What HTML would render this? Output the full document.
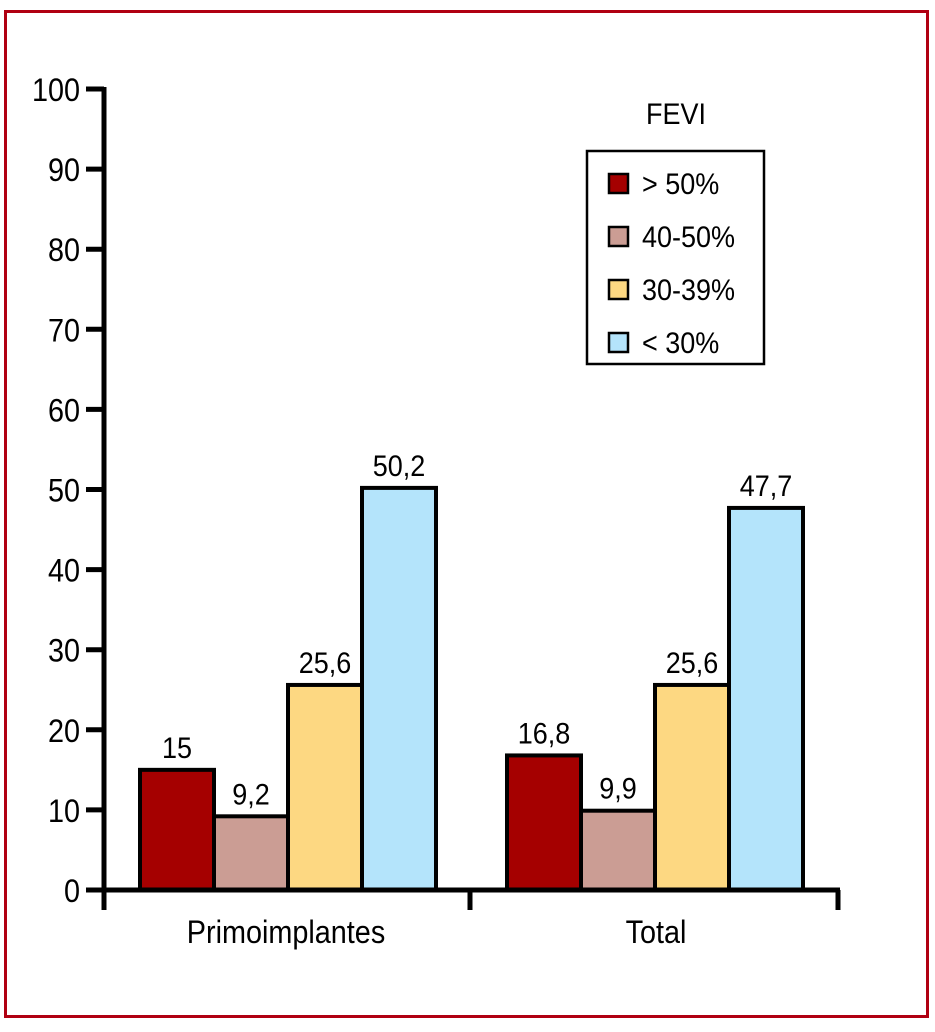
<!DOCTYPE html>
<html><head><meta charset="utf-8"><style>
body{margin:0;background:#fff}
svg text{font-family:"Liberation Sans",sans-serif;fill:#000}
</style></head><body>
<svg width="935" height="1027" xmlns="http://www.w3.org/2000/svg">
<rect x="5.5" y="11.5" width="922" height="1005" fill="none" stroke="#b00012" stroke-width="3"/>
<g id="plot"></g>
</svg>
<script>
const categories=["Primoimplantes","Total"];
const seriesNames=["> 50%","40-50%","30-39%","< 30%"];
const seriesColors=["#a50000","#cb9d94","#fdd882","#b4e4fb"];
const group1=[15,9.2,25.6,50.2];
const group2=[16.8,9.9,25.6,47.7];
const valueLabels1=["15","9,2","25,6","50,2"];
const valueLabels2=["16,8","9,9","25,6","47,7"];
const yTicks=[0,10,20,30,40,50,60,70,80,90,100];
const NS="http://www.w3.org/2000/svg";
const g=document.getElementById('plot');
const y0=890,y100=89,xAxis0=104,xAxis1=838;
const y=v=>y0-(v/100)*(y0-y100);
const SX=0.9;
function mk(t,a){const e=document.createElementNS(NS,t);for(const k in a)e.setAttribute(k,a[k]);g.appendChild(e);return e;}
function txt(x,yy,s,anchor,size){const e=mk('text',{x:0,y:0,'text-anchor':anchor,'font-size':size,transform:`translate(${x},${yy}) scale(${SX},1)`});e.textContent=s;return e;}
const groupStart=[140,507],bw=74;
[group1,group2].forEach((vals,gi)=>{
 const labs=gi?valueLabels2:valueLabels1;
 vals.forEach((v,i)=>{
  const x=groupStart[gi]+i*bw;
  const r=mk('rect',{x:x,y:y(v),width:bw,height:y0-y(v),fill:seriesColors[i],stroke:'#000','stroke-width':4});
  
  
  const t=txt(x+bw/2,y(v)-12,labs[i],'middle',30);
  
  
 });
});
const ya=mk('line',{x1:xAxis0,y1:y100-2,x2:xAxis0,y2:910,stroke:'#000','stroke-width':5});


const xa=mk('line',{x1:86,y1:y0,x2:xAxis1+2,y2:y0,stroke:'#000','stroke-width':5});


[470,xAxis1].forEach(x=>{const l=mk('line',{x1:x,y1:y0,x2:x,y2:910,stroke:'#000','stroke-width':5});
 
 });
yTicks.forEach(v=>{
 const l=mk('line',{x1:86,y1:y(v),x2:xAxis0,y2:y(v),stroke:'#000','stroke-width':5});
 
 
 const t=txt(80,y(v)+12,String(v),'end',32);
 
 
});
[286,656].forEach((cx,i)=>{const t=txt(cx,943,categories[i],'middle',32);
 
 });
const lt=txt(676,124,"FEVI",'middle',30);


const lb=mk('rect',{x:587,y:151,width:177,height:213,fill:'#fff',stroke:'#000','stroke-width':2.5});


seriesNames.forEach((n,i)=>{
 const cy=183+i*53;
 const s=mk('rect',{x:609,y:cy-9,width:19,height:19,fill:seriesColors[i],stroke:'#000','stroke-width':2.5});
 
 
 const t=txt(642,cy+11,n,'start',30);
 
 
});
</script>
</body></html>
